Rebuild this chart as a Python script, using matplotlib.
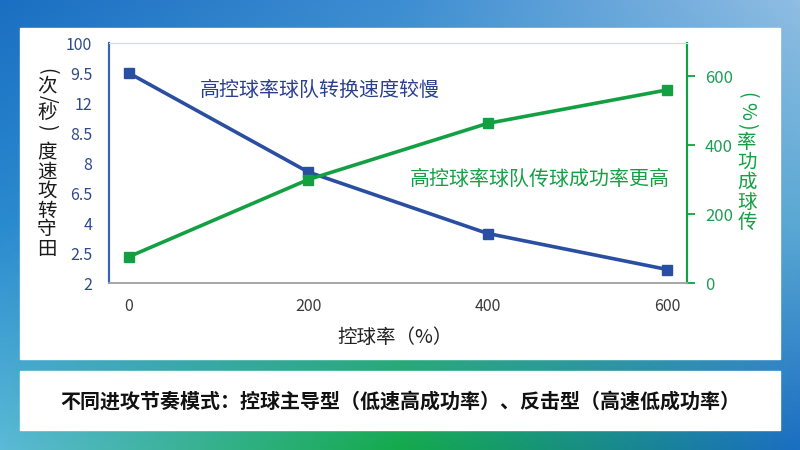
import numpy as np
import matplotlib
matplotlib.use("Agg")
import matplotlib.pyplot as plt
from matplotlib.patches import Rectangle
from matplotlib.ticker import FixedLocator

plt.rcParams["font.family"] = ["Noto Sans CJK SC", "DejaVu Sans"]

# data
possession = [0, 200, 400, 600]
transition_speed = [9.0, 5.7, 3.65, 2.45]
pass_success = [76, 300, 463, 560]

left_ticks = [2, 3, 4, 5, 6, 7, 8, 9, 10]
left_tick_labels = ["2", "2.5", "4", "6.5", "8", "8.5", "12", "9.5", "100"]
right_ticks = [0, 200, 400, 600]
x_ticks = [0, 200, 400, 600]

# stacked axis titles: glyphs drawn sideways where the reference shows them so
left_label = ["(", "次", "/", "秒", ")", "度", "速", "攻", "转", "守", "田"]
right_label = ["(", "%", ")", "率", "功", "成", "球", "传"]
sideways = {"(", ")", "/", "%"}

note_blue = "高控球率球队转换速度较慢"
note_green = "高控球率球队传球成功率更高"
x_label = "控球率（%）"
caption = "不同进攻节奏模式：控球主导型（低速高成功率）、反击型（高速低成功率）"

BLUE = "#2a4ea2"
GREEN = "#13a043"
W, H = 800, 450


def fx(px):
    return px / W


def fy(py):
    return 1 - py / H


def gradient(w, h):
    # 3x3 anchor colours, rows top->bottom, cols left->right
    anchors = np.array([
        [[0x1b, 0x6f, 0xc2], [0x3d, 0x8d, 0xd2], [0x8f, 0xbd, 0xe3]],
        [[0x2a, 0x8a, 0xcf], [0x4a, 0xa8, 0xc4], [0x5a, 0xa8, 0xd4]],
        [[0x5b, 0xba, 0xd6], [0x14, 0xaa, 0x4c], [0x1b, 0x6e, 0xc2]],
    ], dtype=float) / 255
    xs = np.linspace(0, 1, w)
    ys = np.linspace(0, 1, h)
    rows = np.zeros((3, w, 3))
    for r in range(3):
        for c in range(3):
            rows[r, :, c] = np.interp(xs, [0, 0.5, 1], anchors[r, :, c])
    img = np.zeros((h, w, 3))
    for c in range(3):
        for i in range(w):
            img[:, i, c] = np.interp(ys, [0, 0.5, 1], rows[:, i, c])
    return img


fig = plt.figure(figsize=(8, 4.5), dpi=100)

bg = fig.add_axes([0, 0, 1, 1])
bg.imshow(gradient(200, 112), aspect="auto", extent=[0, 1, 0, 1])
bg.set_xlim(0, 1)
bg.set_ylim(0, 1)
bg.axis("off")

# white panels
bg.add_patch(Rectangle((fx(20), fy(359)), fx(760), 331 / H, color="white", zorder=2))
bg.add_patch(Rectangle((fx(20), fy(430)), fx(760), 59 / H, color="white", zorder=2))

ax = fig.add_axes([fx(109), fy(283), fx(578), 240 / H])
ax.set_facecolor("none")
ax2 = ax.twinx()

ax.plot(possession, transition_speed, color=BLUE, lw=2.6, marker="s",
        markersize=7.5, zorder=3)
ax2.plot(possession, pass_success, color=GREEN, lw=2.6, marker="s",
         markersize=7.5, zorder=3)

ax.set_xlim(-22, 622)
ax.set_ylim(2, 10)
ax2.set_ylim(0, 696)

ax.xaxis.set_major_locator(FixedLocator(x_ticks))
ax.xaxis.set_minor_locator(FixedLocator([200, 400]))
ax.yaxis.set_major_locator(FixedLocator(left_ticks))
ax.set_yticklabels(left_tick_labels)
ax.yaxis.set_minor_locator(FixedLocator([3, 5, 7, 9]))
ax2.yaxis.set_major_locator(FixedLocator(right_ticks))

ax.grid(which="minor", axis="both", color="#d3dbea", lw=1.1)
ax.tick_params(which="minor", length=0)
ax.tick_params(axis="x", length=0, pad=11, labelsize=11.5, labelcolor="#3a3a3a")
ax.tick_params(axis="y", length=0, pad=12, labelsize=11.5, labelcolor="#2f4a8a")
ax2.tick_params(axis="y", length=6, width=1.3, color=GREEN, pad=7,
                labelsize=12, labelcolor="#1e9e55")

for a in (ax, ax2):
    a.spines["top"].set_color("#d3dbea")
    a.spines["bottom"].set_color("#a8a8a8")
    a.spines["left"].set_color("#3563b8")
    a.spines["right"].set_color(GREEN)
    a.spines["left"].set_linewidth(1.5)
    a.spines["right"].set_linewidth(1.5)
    a.spines["bottom"].set_linewidth(1.3)

left_y = [71, 86, 99, 113, 127, 152, 172, 191, 211, 230, 250]
for ch, py in zip(left_label, left_y):
    fig.text(fx(47), fy(py), ch, ha="center", va="center", fontsize=14,
             color="#1a1a1a", rotation=-90 if ch in sideways else 0)

right_y = [95, 111, 126, 142, 162, 182, 202, 222]
for ch, py in zip(right_label, right_y):
    fig.text(fx(747), fy(py), ch, ha="center", va="center", fontsize=14,
             color=GREEN, rotation=-90 if ch in sideways else 0)

fig.text(fx(200), fy(90), note_blue, ha="left", va="center", fontsize=14.4,
         color="#2b3f8f")
fig.text(fx(410), fy(179), note_green, ha="left", va="center", fontsize=14.4,
         color="#15a045")

fig.text(fx(395), fy(337), x_label, ha="center", va="center", fontsize=14,
         color="#222222")
fig.text(fx(400), fy(401), caption, ha="center", va="center", fontsize=14.4,
         fontweight="bold", color="#111111")

fig.savefig("out.png", dpi=100)
